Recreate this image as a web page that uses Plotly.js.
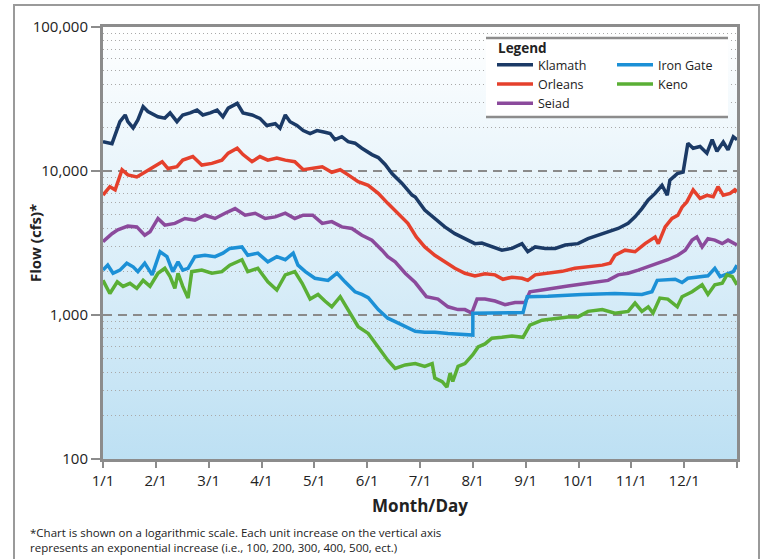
<!DOCTYPE html>
<html>
<head>
<meta charset="utf-8">
<script src="https://cdn.plot.ly/plotly-3.0.1.min.js"></script>
<style>html,body{margin:0;padding:0;background:#fff;}#chart{width:765px;height:559px;}</style>
</head>
<body>
<div id="chart"></div>
<script>
// ---- Data (x = months elapsed since Jan 1; values = flow in cfs) ----
var monthTickLabels = ['1/1','2/1','3/1','4/1','5/1','6/1','7/1','8/1','9/1','10/1','11/1','12/1',''];
var flowTickVals = [100, 1000, 10000, 100000];
var flowTickText = ['100', '1,000', '10,000', '100,000'];

var klamathX = [0,0.17,0.32,0.42,0.47,0.57,0.66,0.76,0.85,1.04,1.17,1.27,1.40,1.51,1.65,1.78,1.89,2.03,2.16,2.27,2.37,2.54,2.65,2.82,2.97,3.10,3.26,3.35,3.45,3.54,3.67,3.79,3.92,4.05,4.20,4.30,4.39,4.52,4.64,4.77,4.90,5.09,5.21,5.34,5.47,5.66,5.85,5.91,6.09,6.28,6.47,6.66,6.85,7.04,7.17,7.36,7.55,7.74,7.93,8.04,8.18,8.37,8.56,8.75,8.99,9.18,9.37,9.56,9.75,9.94,10.07,10.20,10.32,10.45,10.58,10.68,10.73,10.87,10.98,11.07,11.17,11.30,11.43,11.53,11.62,11.74,11.83,11.93,12.00];
var klamathQ = [16000,15500,22000,24500,22000,19900,22600,28000,25900,23800,23300,25300,22000,24500,25300,26500,24500,25300,26500,23800,27300,29500,25300,24500,23200,20700,21300,19800,24500,22000,20700,19100,18200,19100,18600,18200,16500,17300,16000,15600,14400,13000,12400,11100,9600,8200,6800,6600,5350,4680,4090,3670,3390,3130,3160,2970,2820,2900,3130,2750,2970,2900,2900,3060,3130,3390,3580,3780,3990,4330,4800,5480,6300,6990,7960,6780,8640,9590,9830,15600,14400,14800,13300,16500,13700,15900,14000,17300,16500];

var orleansX = [0,0.13,0.23,0.36,0.47,0.64,0.79,0.95,1.12,1.23,1.40,1.51,1.70,1.87,2.06,2.25,2.37,2.54,2.65,2.82,2.97,3.12,3.29,3.45,3.63,3.79,3.96,4.15,4.33,4.49,4.64,4.83,5.02,5.21,5.39,5.58,5.77,5.93,6.09,6.28,6.47,6.66,6.85,7.04,7.23,7.42,7.57,7.74,7.93,8.04,8.18,8.42,8.69,8.93,9.18,9.45,9.60,9.69,9.88,10.07,10.26,10.45,10.51,10.64,10.77,10.88,10.96,11.05,11.17,11.30,11.43,11.55,11.64,11.74,11.87,11.96,12.00];
var orleansQ = [6810,7780,7400,10200,9400,9100,9800,10700,11600,10400,10700,11900,12600,11000,11300,11900,13300,14400,13000,11600,12600,11900,12300,11900,11600,10200,10400,10700,9800,10200,9400,8430,7960,6990,5960,5090,4330,3480,2970,2600,2340,2110,1950,1870,1930,1900,1770,1830,1800,1740,1900,1950,2010,2110,2160,2220,2290,2600,2820,2750,3130,3480,3130,4090,4680,4930,5610,6100,7400,6450,6780,6630,7780,6780,6990,7400,7200];

var seiadX = [0,0.17,0.28,0.47,0.64,0.79,0.89,1.04,1.17,1.36,1.55,1.74,1.93,2.12,2.31,2.50,2.69,2.88,3.07,3.26,3.45,3.63,3.79,3.97,4.15,4.33,4.52,4.71,4.90,5.09,5.28,5.39,5.53,5.72,5.91,6.12,6.34,6.53,6.72,6.85,6.98,7.08,7.23,7.42,7.61,7.80,7.99,8.08,8.31,8.56,8.80,9.07,9.31,9.56,9.75,9.94,10.13,10.32,10.51,10.69,10.88,11.02,11.15,11.24,11.34,11.45,11.58,11.72,11.83,12.00];
var seiadQ = [3230,3670,3900,4140,4090,3580,3780,4680,4210,4330,4680,4560,4930,4680,5090,5480,4930,5090,4680,4800,5090,4680,4930,4930,4330,4450,4090,3990,3580,3310,2820,2540,2340,1950,1680,1340,1290,1140,1090,1090,1030,1290,1290,1250,1180,1220,1220,1450,1490,1550,1590,1640,1680,1740,1900,1950,2050,2160,2290,2420,2600,2820,3310,3480,2970,3390,3310,3130,3310,3060];

var ironGateX = [0,0.09,0.19,0.32,0.45,0.57,0.66,0.79,0.93,1.08,1.21,1.32,1.42,1.51,1.61,1.74,1.93,2.12,2.27,2.40,2.63,2.74,2.93,3.12,3.29,3.45,3.60,3.69,3.83,4.01,4.26,4.43,4.58,4.77,4.90,5.02,5.21,5.39,5.53,5.72,5.91,6.09,6.28,6.53,6.91,7.00,7.00,7.48,7.95,8.03,8.42,9.07,9.69,10.20,10.39,10.49,10.83,10.96,11.07,11.45,11.58,11.68,11.83,11.93,12.00];
var ironGateQ = [2050,2220,1950,2050,2290,2160,2000,2290,1900,2750,2540,2000,2340,2050,2110,2540,2600,2540,2690,2900,2970,2600,2690,2340,2540,2420,2690,2220,2000,1800,1740,1950,1700,1450,1390,1320,1090,950,900,830,770,760,760,745,725,725,1030,1030,1040,1340,1350,1390,1410,1390,1450,1740,1770,1680,1800,1870,2110,1850,1930,2000,2220];

var kenoX = [0,0.13,0.27,0.38,0.51,0.64,0.76,0.89,1.04,1.17,1.27,1.36,1.42,1.51,1.61,1.68,1.87,2.06,2.25,2.40,2.63,2.74,2.93,3.12,3.29,3.45,3.63,3.77,3.92,4.07,4.20,4.33,4.49,4.64,4.83,5.02,5.21,5.39,5.53,5.72,5.91,6.09,6.23,6.28,6.42,6.51,6.57,6.62,6.72,6.85,7.00,7.10,7.23,7.36,7.55,7.74,7.95,8.08,8.31,8.56,8.80,8.99,9.18,9.45,9.69,9.94,10.07,10.20,10.32,10.41,10.54,10.69,10.87,10.96,11.15,11.34,11.45,11.58,11.72,11.81,11.91,12.00];
var kenoQ = [1740,1410,1700,1580,1660,1530,1740,1580,1950,2110,1850,1530,1950,1580,1310,2000,2050,1950,2000,2220,2420,2000,2110,1700,1490,1900,2000,1660,1290,1390,1250,1140,1340,1090,830,745,600,485,425,450,460,440,460,365,345,315,395,345,440,460,530,600,630,690,700,715,700,850,920,950,970,970,1060,1090,1030,1060,1210,1060,1140,1030,1310,1290,1140,1340,1450,1620,1390,1620,1660,1900,1850,1620];

var seriesNames = ['Klamath','Orleans','Seiad','Iron Gate','Keno'];
var seriesColors = ['#1b3a66','#e5402c','#8b4a9c','#1c90d6','#5aaf35'];

// ---- Geometry helpers (layout only) ----
var W = 765, H = 559, L = 103, R = 28, T = 27, B = 100;
var PW = W - L - R, PH = H - T - B;
function px(x){ return (x - L) / PW; }
function py(y){ return (H - B - y) / PH; }

var minorVals = [];
[100, 1000, 10000].forEach(function(d){ for (var k = 2; k <= 9; k++) minorVals.push(k * d); });

var xs = [klamathX, orleansX, seiadX, ironGateX, kenoX];
var ys = [klamathQ, orleansQ, seiadQ, ironGateQ, kenoQ];
var legendIds = ['legend','legend','legend','legend2','legend2'];

var traces = seriesNames.map(function(n, i){
  return {
    x: xs[i], y: ys[i], name: n, type: 'scatter', mode: 'lines',
    line: {color: seriesColors[i], width: 3.5},
    legend: legendIds[i], hoverinfo: 'skip'
  };
});

var gradSvg = '<svg xmlns="http://www.w3.org/2000/svg" width="100" height="100" preserveAspectRatio="none">' +
  '<defs><linearGradient id="g" x1="0" y1="0" x2="0" y2="1">' +
  '<stop offset="0" stop-color="#ffffff"/><stop offset="1" stop-color="#bde0f3"/>' +
  '</linearGradient></defs><rect width="100" height="100" fill="url(#g)"/></svg>';

var FONT = '"Open Sans", "Noto Sans", sans-serif';

var layout = {
  width: W, height: H,
  margin: {l: L, r: R, t: T, b: B, pad: 0},
  paper_bgcolor: '#ffffff',
  plot_bgcolor: 'rgba(0,0,0,0)',
  font: {family: FONT, color: '#222', size: 14},
  showlegend: true,
  images: [{
    source: 'data:image/svg+xml;charset=utf-8,' + encodeURIComponent(gradSvg),
    xref: 'paper', yref: 'paper', x: 0, y: 1, sizex: 1, sizey: 1,
    sizing: 'stretch', xanchor: 'left', yanchor: 'top', layer: 'below'
  }],
  xaxis: {
    range: [0, 12], tickmode: 'array',
    tickvals: monthTickLabels.map(function(_, i){ return i; }),
    ticktext: monthTickLabels,
    ticks: 'outside', ticklen: 6, tickwidth: 2, tickcolor: '#8c8c8c',
    showgrid: false, zeroline: false,
    showline: true, linewidth: 3, linecolor: '#8c8c8c', mirror: true,
    tickfont: {size: 15, color: '#222'},
    title: {text: '<b>Month/Day</b>', font: {size: 17, color: '#222'}, standoff: 12},
    fixedrange: true
  },
  yaxis: {
    type: 'log', range: [2, 5], tickmode: 'array',
    tickvals: flowTickVals, ticktext: flowTickText,
    ticks: 'outside', ticklen: 9, tickwidth: 2, tickcolor: '#8c8c8c',
    showgrid: true, gridcolor: '#8a8a8a', gridwidth: 1.5, griddash: '9px,6px',
    zeroline: false,
    showline: true, linewidth: 3, linecolor: '#8c8c8c', mirror: true,
    tickfont: {size: 15, color: '#222'},
    minor: {tickmode: 'array', tickvals: minorVals, showgrid: true, gridcolor: '#a9a9a9', gridwidth: 1, griddash: '1px,3px', ticks: ''},
    fixedrange: true
  },
  shapes: [
    {type: 'rect', xref: 'paper', yref: 'paper', x0: px(14), x1: px(759), y0: py(600), y1: py(5),
     line: {color: '#9a9a9a', width: 2}, fillcolor: 'rgba(0,0,0,0)', layer: 'above'},
    {type: 'rect', xref: 'paper', yref: 'paper', x0: px(486), x1: px(728), y0: py(117), y1: py(38),
     line: {width: 0}, fillcolor: '#ffffff', layer: 'above'},
    {type: 'line', xref: 'paper', yref: 'paper', x0: px(486), x1: px(728), y0: py(38), y1: py(38),
     line: {color: '#8c8c8c', width: 2.5}, layer: 'above'},
    {type: 'line', xref: 'paper', yref: 'paper', x0: px(486), x1: px(728), y0: py(117), y1: py(117),
     line: {color: '#8c8c8c', width: 2.5}, layer: 'above'}
  ],
  legend: {
    x: px(492), y: py(50), xanchor: 'left', yanchor: 'top',
    bgcolor: 'rgba(0,0,0,0)', borderwidth: 0,
    font: {size: 12.5, color: '#222'}, itemwidth: 36, tracegroupgap: 0
  },
  legend2: {
    x: px(612), y: py(50), xanchor: 'left', yanchor: 'top',
    bgcolor: 'rgba(0,0,0,0)', borderwidth: 0,
    font: {size: 12.5, color: '#222'}, itemwidth: 36, tracegroupgap: 0
  },
  annotations: [
    {xref: 'paper', yref: 'paper', x: px(496), y: py(48), xanchor: 'left', yanchor: 'middle',
     showarrow: false, text: '<b>Legend</b>', font: {size: 13.5, color: '#222'}},
    {xref: 'paper', yref: 'paper', x: px(35), y: py(243), xanchor: 'center', yanchor: 'middle',
     showarrow: false, textangle: -90, text: '<b>Flow (cfs)*</b>', font: {size: 15, color: '#222'}},
    {xref: 'paper', yref: 'paper', x: px(28), y: py(523), xanchor: 'left', yanchor: 'top',
     align: 'left', showarrow: false,
     text: '*Chart is shown on a logarithmic scale. Each unit increase on the vertical axis<br>represents an exponential increase (i.e., 100, 200, 300, 400, 500, ect.)',
     font: {size: 11.5, color: '#222'}}
  ]
};

Plotly.newPlot('chart', traces, layout, {displayModeBar: false, staticPlot: true});
</script>
</body>
</html>
